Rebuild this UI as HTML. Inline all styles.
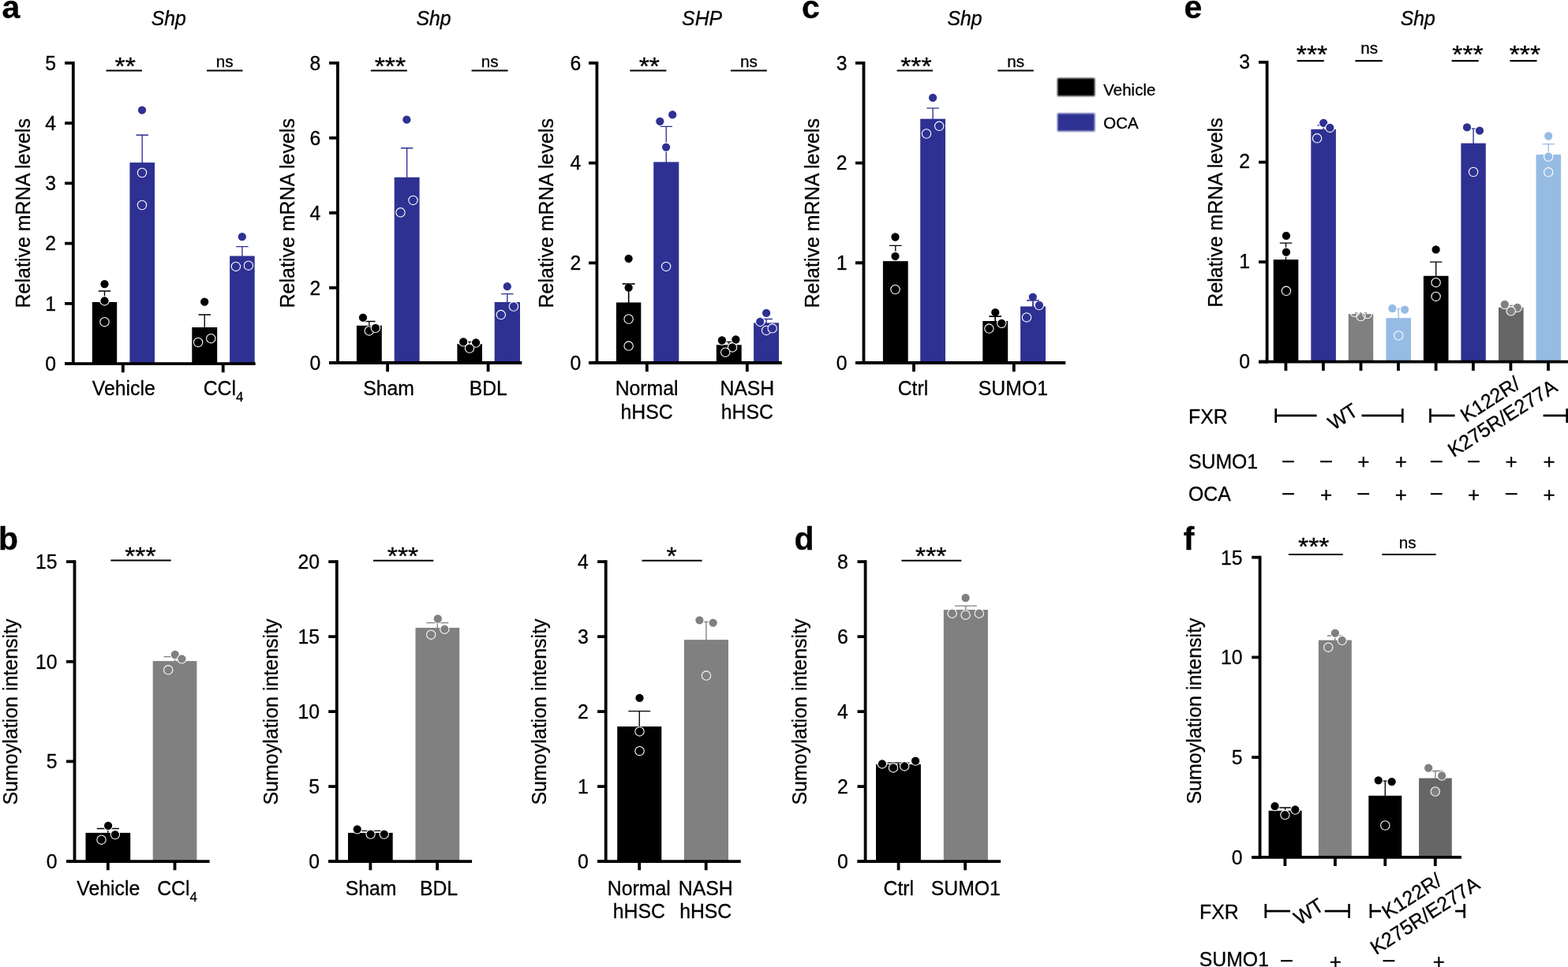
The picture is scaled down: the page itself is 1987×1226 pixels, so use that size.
<!DOCTYPE html>
<html lang="en"><head><meta charset="utf-8"><title>Figure</title>
<style>html,body{margin:0;padding:0;background:#fff}body{width:1987px;height:1226px;overflow:hidden}svg{display:block}text{stroke:#000;stroke-width:.3px;stroke-linejoin:round}</style>
</head><body>
<svg width="1987" height="1226" viewBox="0 0 1987 1226">
<defs><filter id="bl" x="-10%" y="-20%" width="120%" height="140%"><feGaussianBlur stdDeviation="1"/></filter></defs>
<rect width="1987" height="1226" fill="#fff"/>
<g font-family="'Liberation Sans', sans-serif" fill="#000">
<rect x="116.8" y="383" width="31.4" height="78.05" fill="#000"/>
<rect x="164.4" y="206.1" width="31.6" height="254.95" fill="#2e3192"/>
<rect x="243.3" y="415" width="31.9" height="46.05" fill="#000"/>
<rect x="291.1" y="324.5" width="31.6" height="136.55" fill="#2e3192"/>
<path d="M124.75 369H140.25M132.5 369V384" stroke="#000" stroke-width="1.35" fill="none"/>
<path d="M172.45 171.2H187.95M180.2 171.2V207.1" stroke="#2e3192" stroke-width="1.35" fill="none"/>
<path d="M251.5 399H267M259.25 399V416" stroke="#000" stroke-width="1.35" fill="none"/>
<path d="M299.15 312.6H314.65M306.9 312.6V325.5" stroke="#2e3192" stroke-width="1.35" fill="none"/>
<path d="M92.8 77.9V462.95" stroke="#000" stroke-width="3.8" fill="none"/>
<path d="M82.1 461.05H323.7" stroke="#000" stroke-width="3.8" fill="none"/>
<path d="M82.1 461.05H92.8M82.1 384.8H92.8M82.1 308.55H92.8M82.1 232.3H92.8M82.1 156.05H92.8M82.1 79.8H92.8M155.8 461.05V472.25M282.7 461.05V472.25" stroke="#000" stroke-width="3.8" fill="none"/>
<text transform="translate(71 469.95) scale(1 1.02)" font-size="24.8" text-anchor="end">0</text>
<text transform="translate(71 393.7) scale(1 1.02)" font-size="24.8" text-anchor="end">1</text>
<text transform="translate(71 317.45) scale(1 1.02)" font-size="24.8" text-anchor="end">2</text>
<text transform="translate(71 241.2) scale(1 1.02)" font-size="24.8" text-anchor="end">3</text>
<text transform="translate(71 164.95) scale(1 1.02)" font-size="24.8" text-anchor="end">4</text>
<text transform="translate(71 88.7) scale(1 1.02)" font-size="24.8" text-anchor="end">5</text>
<circle cx="132.5" cy="360.2" r="5.68" fill="#000" stroke="#fff" stroke-width="1.1"/>
<circle cx="132.5" cy="381.4" r="5.68" fill="#000" stroke="#fff" stroke-width="1.1"/>
<circle cx="132.5" cy="408.2" r="5.68" fill="#000" stroke="#fff" stroke-width="1.1"/>
<circle cx="180" cy="139.6" r="5.68" fill="#2e3192" stroke="#fff" stroke-width="1.1"/>
<circle cx="180" cy="219" r="5.68" fill="#2e3192" stroke="#fff" stroke-width="1.1"/>
<circle cx="180" cy="260" r="5.68" fill="#2e3192" stroke="#fff" stroke-width="1.1"/>
<circle cx="259.2" cy="382.7" r="5.68" fill="#000" stroke="#fff" stroke-width="1.1"/>
<circle cx="251.1" cy="434" r="5.68" fill="#000" stroke="#fff" stroke-width="1.1"/>
<circle cx="267.3" cy="429.2" r="5.68" fill="#000" stroke="#fff" stroke-width="1.1"/>
<circle cx="306.8" cy="300.2" r="5.68" fill="#2e3192" stroke="#fff" stroke-width="1.1"/>
<circle cx="298.9" cy="337.9" r="5.68" fill="#2e3192" stroke="#fff" stroke-width="1.1"/>
<circle cx="314.9" cy="336.7" r="5.68" fill="#2e3192" stroke="#fff" stroke-width="1.1"/>
<rect x="451.9" y="412.8" width="31.9" height="47.2" fill="#000"/>
<rect x="499.7" y="224.8" width="31.9" height="235.2" fill="#2e3192"/>
<rect x="579.4" y="436.1" width="31.6" height="23.9" fill="#000"/>
<rect x="626.7" y="383" width="32.3" height="77" fill="#2e3192"/>
<path d="M460.1 407.5H475.6M467.85 407.5V413.8" stroke="#000" stroke-width="1.35" fill="none"/>
<path d="M507.9 187.7H523.4M515.65 187.7V225.8" stroke="#2e3192" stroke-width="1.35" fill="none"/>
<path d="M587.45 433.3H602.95M595.2 433.3V437.1" stroke="#000" stroke-width="1.35" fill="none"/>
<path d="M635.1 372.6H650.6M642.85 372.6V384" stroke="#2e3192" stroke-width="1.35" fill="none"/>
<path d="M427.95 77.95V461.9" stroke="#000" stroke-width="3.8" fill="none"/>
<path d="M417.1 460H661.3" stroke="#000" stroke-width="3.8" fill="none"/>
<path d="M417.1 460H427.95M417.1 364.96H427.95M417.1 269.92H427.95M417.1 174.88H427.95M417.1 79.84H427.95M491.1 460V471.2M618.6 460V471.2" stroke="#000" stroke-width="3.8" fill="none"/>
<text transform="translate(406.4 468.9) scale(1 1.02)" font-size="24.8" text-anchor="end">0</text>
<text transform="translate(406.4 373.86) scale(1 1.02)" font-size="24.8" text-anchor="end">2</text>
<text transform="translate(406.4 278.82) scale(1 1.02)" font-size="24.8" text-anchor="end">4</text>
<text transform="translate(406.4 183.78) scale(1 1.02)" font-size="24.8" text-anchor="end">6</text>
<text transform="translate(406.4 88.74) scale(1 1.02)" font-size="24.8" text-anchor="end">8</text>
<circle cx="460" cy="402.7" r="5.68" fill="#000" stroke="#fff" stroke-width="1.1"/>
<circle cx="467.8" cy="419.4" r="5.68" fill="#000" stroke="#fff" stroke-width="1.1"/>
<circle cx="475.9" cy="415.8" r="5.68" fill="#000" stroke="#fff" stroke-width="1.1"/>
<circle cx="515.4" cy="151.7" r="5.68" fill="#2e3192" stroke="#fff" stroke-width="1.1"/>
<circle cx="523.5" cy="253.9" r="5.68" fill="#2e3192" stroke="#fff" stroke-width="1.1"/>
<circle cx="507.5" cy="269.3" r="5.68" fill="#2e3192" stroke="#fff" stroke-width="1.1"/>
<circle cx="587.2" cy="433.3" r="5.68" fill="#000" stroke="#fff" stroke-width="1.1"/>
<circle cx="603.1" cy="434.5" r="5.68" fill="#000" stroke="#fff" stroke-width="1.1"/>
<circle cx="595" cy="441.6" r="5.68" fill="#000" stroke="#fff" stroke-width="1.1"/>
<circle cx="642.8" cy="363.2" r="5.68" fill="#2e3192" stroke="#fff" stroke-width="1.1"/>
<circle cx="650.9" cy="388.5" r="5.68" fill="#2e3192" stroke="#fff" stroke-width="1.1"/>
<circle cx="634.8" cy="399.1" r="5.68" fill="#2e3192" stroke="#fff" stroke-width="1.1"/>
<rect x="780.9" y="383.5" width="31.4" height="76.5" fill="#000"/>
<rect x="828.2" y="205.4" width="32.1" height="254.6" fill="#2e3192"/>
<rect x="907.8" y="437.3" width="31.9" height="22.7" fill="#000"/>
<rect x="955.1" y="409.3" width="31.9" height="50.7" fill="#2e3192"/>
<path d="M788.85 359.9H804.35M796.6 359.9V384.5" stroke="#000" stroke-width="1.35" fill="none"/>
<path d="M836.5 160.3H852M844.25 160.3V206.4" stroke="#2e3192" stroke-width="1.35" fill="none"/>
<path d="M916 433.3H931.5M923.75 433.3V438.3" stroke="#000" stroke-width="1.35" fill="none"/>
<path d="M963.3 404.5H978.8M971.05 404.5V410.3" stroke="#2e3192" stroke-width="1.35" fill="none"/>
<path d="M756.4 77.93V461.9" stroke="#000" stroke-width="3.8" fill="none"/>
<path d="M746 460H990.8" stroke="#000" stroke-width="3.8" fill="none"/>
<path d="M746 460H756.4M746 333.28H756.4M746 206.56H756.4M746 79.84H756.4M819.8 460V471.2M946.8 460V471.2" stroke="#000" stroke-width="3.8" fill="none"/>
<text transform="translate(736.4 468.9) scale(1 1.02)" font-size="24.8" text-anchor="end">0</text>
<text transform="translate(736.4 342.18) scale(1 1.02)" font-size="24.8" text-anchor="end">2</text>
<text transform="translate(736.4 215.46) scale(1 1.02)" font-size="24.8" text-anchor="end">4</text>
<text transform="translate(736.4 88.74) scale(1 1.02)" font-size="24.8" text-anchor="end">6</text>
<circle cx="796.6" cy="327.8" r="5.68" fill="#000" stroke="#fff" stroke-width="1.1"/>
<circle cx="796.6" cy="364.7" r="5.68" fill="#000" stroke="#fff" stroke-width="1.1"/>
<circle cx="796.6" cy="404.5" r="5.68" fill="#000" stroke="#fff" stroke-width="1.1"/>
<circle cx="796.6" cy="438.6" r="5.68" fill="#000" stroke="#fff" stroke-width="1.1"/>
<path d="M788.85 359.9H804.35M796.6 359.9V384.5" stroke="#000" stroke-width="1.35" fill="none"/>
<circle cx="836.3" cy="153.8" r="5.68" fill="#2e3192" stroke="#fff" stroke-width="1.1"/>
<circle cx="852.2" cy="145.4" r="5.68" fill="#2e3192" stroke="#fff" stroke-width="1.1"/>
<circle cx="844.1" cy="186.6" r="5.68" fill="#2e3192" stroke="#fff" stroke-width="1.1"/>
<circle cx="844.1" cy="337.9" r="5.68" fill="#2e3192" stroke="#fff" stroke-width="1.1"/>
<circle cx="914.9" cy="431.5" r="5.68" fill="#000" stroke="#fff" stroke-width="1.1"/>
<circle cx="932.4" cy="430.5" r="5.68" fill="#000" stroke="#fff" stroke-width="1.1"/>
<circle cx="928.1" cy="440.4" r="5.68" fill="#000" stroke="#fff" stroke-width="1.1"/>
<circle cx="919.2" cy="446.7" r="5.68" fill="#000" stroke="#fff" stroke-width="1.1"/>
<circle cx="971.1" cy="396.9" r="5.68" fill="#2e3192" stroke="#fff" stroke-width="1.1"/>
<circle cx="963.2" cy="407.9" r="5.68" fill="#2e3192" stroke="#fff" stroke-width="1.1"/>
<circle cx="971.1" cy="418.9" r="5.68" fill="#2e3192" stroke="#fff" stroke-width="1.1"/>
<circle cx="978.7" cy="416.3" r="5.68" fill="#2e3192" stroke="#fff" stroke-width="1.1"/>
<rect x="1118.9" y="331.1" width="31.8" height="128.9" fill="#000"/>
<rect x="1166.2" y="150.7" width="31.8" height="309.3" fill="#2e3192"/>
<rect x="1245.3" y="407" width="31.9" height="53" fill="#000"/>
<rect x="1293.1" y="388.5" width="31.9" height="71.5" fill="#2e3192"/>
<path d="M1127.05 311.4H1142.55M1134.8 311.4V332.1" stroke="#000" stroke-width="1.35" fill="none"/>
<path d="M1174.35 137.1H1189.85M1182.1 137.1V151.7" stroke="#2e3192" stroke-width="1.35" fill="none"/>
<path d="M1253.5 401.2H1269M1261.25 401.2V408" stroke="#000" stroke-width="1.35" fill="none"/>
<path d="M1301.3 380.9H1316.8M1309.05 380.9V389.5" stroke="#2e3192" stroke-width="1.35" fill="none"/>
<path d="M1094.5 77.9V461.9" stroke="#000" stroke-width="3.8" fill="none"/>
<path d="M1084 460H1350.3" stroke="#000" stroke-width="3.8" fill="none"/>
<path d="M1084 460H1094.5M1084 333.27H1094.5M1084 206.54H1094.5M1084 79.81H1094.5M1158 460V471.2M1284.8 460V471.2" stroke="#000" stroke-width="3.8" fill="none"/>
<text transform="translate(1073.6 468.9) scale(1 1.02)" font-size="24.8" text-anchor="end">0</text>
<text transform="translate(1073.6 342.17) scale(1 1.02)" font-size="24.8" text-anchor="end">1</text>
<text transform="translate(1073.6 215.44) scale(1 1.02)" font-size="24.8" text-anchor="end">2</text>
<text transform="translate(1073.6 88.71) scale(1 1.02)" font-size="24.8" text-anchor="end">3</text>
<circle cx="1134.5" cy="300.5" r="5.68" fill="#000" stroke="#fff" stroke-width="1.1"/>
<circle cx="1134.5" cy="324.8" r="5.68" fill="#000" stroke="#fff" stroke-width="1.1"/>
<circle cx="1134.5" cy="367" r="5.68" fill="#000" stroke="#fff" stroke-width="1.1"/>
<circle cx="1182.1" cy="123.9" r="5.68" fill="#2e3192" stroke="#fff" stroke-width="1.1"/>
<circle cx="1190.2" cy="159.8" r="5.68" fill="#2e3192" stroke="#fff" stroke-width="1.1"/>
<circle cx="1174" cy="169.5" r="5.68" fill="#2e3192" stroke="#fff" stroke-width="1.1"/>
<circle cx="1261.3" cy="396.1" r="5.68" fill="#000" stroke="#fff" stroke-width="1.1"/>
<circle cx="1269.3" cy="409.8" r="5.68" fill="#000" stroke="#fff" stroke-width="1.1"/>
<circle cx="1253.4" cy="416.6" r="5.68" fill="#000" stroke="#fff" stroke-width="1.1"/>
<path d="M1253.5 401.2H1269M1261.25 401.2V408" stroke="#000" stroke-width="1.35" fill="none"/>
<circle cx="1308.8" cy="376.6" r="5.68" fill="#2e3192" stroke="#fff" stroke-width="1.1"/>
<circle cx="1316.9" cy="387" r="5.68" fill="#2e3192" stroke="#fff" stroke-width="1.1"/>
<circle cx="1301" cy="402.4" r="5.68" fill="#2e3192" stroke="#fff" stroke-width="1.1"/>
<path d="M1301.3 380.9H1316.8M1309.05 380.9V389.5" stroke="#2e3192" stroke-width="1.35" fill="none"/>
<rect x="1613.7" y="329.1" width="31.6" height="129.6" fill="#000"/>
<rect x="1661.3" y="163.9" width="31.6" height="294.8" fill="#2e3192"/>
<rect x="1708.8" y="398.1" width="31.4" height="60.6" fill="#808080"/>
<rect x="1756.4" y="403.2" width="31.6" height="55.5" fill="#96bce4"/>
<rect x="1803.9" y="349.8" width="31.6" height="108.9" fill="#000"/>
<rect x="1851.4" y="181.6" width="31.4" height="277.1" fill="#2e3192"/>
<rect x="1899" y="389.8" width="31.6" height="68.9" fill="#666666"/>
<rect x="1946.5" y="196" width="31.6" height="262.7" fill="#96bce4"/>
<path d="M1621.75 308.1H1637.25M1629.5 308.1V330.1" stroke="#000" stroke-width="1.35" fill="none"/>
<path d="M1669.35 158.8H1684.85M1677.1 158.8V164.9" stroke="#2e3192" stroke-width="1.35" fill="none"/>
<path d="M1716.75 396.9H1732.25M1724.5 396.9V399.1" stroke="#808080" stroke-width="1.35" fill="none"/>
<path d="M1764.45 391.6H1779.95M1772.2 391.6V404.2" stroke="#96bce4" stroke-width="1.35" fill="none"/>
<path d="M1811.95 332.1H1827.45M1819.7 332.1V350.8" stroke="#000" stroke-width="1.35" fill="none"/>
<path d="M1859.35 163.1H1874.85M1867.1 163.1V182.6" stroke="#2e3192" stroke-width="1.35" fill="none"/>
<path d="M1907.05 387.3H1922.55M1914.8 387.3V390.8" stroke="#808080" stroke-width="1.35" fill="none"/>
<path d="M1954.55 182.6H1970.05M1962.3 182.6V197" stroke="#96bce4" stroke-width="1.35" fill="none"/>
<path d="M1605.6 77.05V460.6" stroke="#000" stroke-width="3.8" fill="none"/>
<path d="M1595 458.7H1987" stroke="#000" stroke-width="3.8" fill="none"/>
<path d="M1595 458.7H1605.6M1595 332.12H1605.6M1595 205.54H1605.6M1595 78.96H1605.6M1629.4 458.7V469.9M1676.9 458.7V469.9M1724.5 458.7V469.9M1772 458.7V469.9M1819.6 458.7V469.9M1866.9 458.7V469.9M1914.4 458.7V469.9M1962 458.7V469.9" stroke="#000" stroke-width="3.8" fill="none"/>
<text transform="translate(1584.1 466.5) scale(1 1.02)" font-size="24.8" text-anchor="end">0</text>
<text transform="translate(1584.1 339.92) scale(1 1.02)" font-size="24.8" text-anchor="end">1</text>
<text transform="translate(1584.1 213.34) scale(1 1.02)" font-size="24.8" text-anchor="end">2</text>
<text transform="translate(1584.1 86.76) scale(1 1.02)" font-size="24.8" text-anchor="end">3</text>
<circle cx="1629.9" cy="298.9" r="5.68" fill="#000" stroke="#fff" stroke-width="1.1"/>
<circle cx="1629.9" cy="319.7" r="5.68" fill="#000" stroke="#fff" stroke-width="1.1"/>
<circle cx="1629.9" cy="368.8" r="5.68" fill="#000" stroke="#fff" stroke-width="1.1"/>
<circle cx="1677.2" cy="155.8" r="5.68" fill="#2e3192" stroke="#fff" stroke-width="1.1"/>
<circle cx="1685.3" cy="161.9" r="5.68" fill="#2e3192" stroke="#fff" stroke-width="1.1"/>
<circle cx="1669.1" cy="175.3" r="5.68" fill="#2e3192" stroke="#fff" stroke-width="1.1"/>
<circle cx="1716.8" cy="395.8" r="5.68" fill="none" stroke="#fff" stroke-width="1.1"/>
<circle cx="1732.7" cy="398" r="5.68" fill="none" stroke="#fff" stroke-width="1.1"/>
<circle cx="1724.5" cy="401.1" r="5.68" fill="none" stroke="#fff" stroke-width="1.1"/>
<circle cx="1764.4" cy="391" r="5.68" fill="#96bce4" stroke="#fff" stroke-width="1.1"/>
<circle cx="1780.1" cy="392.6" r="5.68" fill="#96bce4" stroke="#fff" stroke-width="1.1"/>
<circle cx="1772.3" cy="425.4" r="5.68" fill="#96bce4" stroke="#fff" stroke-width="1.1"/>
<circle cx="1819.6" cy="316.4" r="5.68" fill="#000" stroke="#fff" stroke-width="1.1"/>
<circle cx="1819.6" cy="358.2" r="5.68" fill="#000" stroke="#fff" stroke-width="1.1"/>
<circle cx="1819.6" cy="375.9" r="5.68" fill="#000" stroke="#fff" stroke-width="1.1"/>
<circle cx="1859" cy="161.4" r="5.68" fill="#2e3192" stroke="#fff" stroke-width="1.1"/>
<circle cx="1875" cy="165.7" r="5.68" fill="#2e3192" stroke="#fff" stroke-width="1.1"/>
<circle cx="1867.1" cy="218" r="5.68" fill="#2e3192" stroke="#fff" stroke-width="1.1"/>
<circle cx="1906.8" cy="386" r="5.68" fill="#808080" stroke="#fff" stroke-width="1.1"/>
<circle cx="1922.8" cy="389.8" r="5.68" fill="#808080" stroke="#fff" stroke-width="1.1"/>
<circle cx="1914.7" cy="394.3" r="5.68" fill="#808080" stroke="#fff" stroke-width="1.1"/>
<circle cx="1962.2" cy="172.5" r="5.68" fill="#96bce4" stroke="#fff" stroke-width="1.1"/>
<circle cx="1962.2" cy="198.5" r="5.68" fill="#96bce4" stroke="#fff" stroke-width="1.1"/>
<circle cx="1962.2" cy="218.3" r="5.68" fill="#96bce4" stroke="#fff" stroke-width="1.1"/>
<rect x="108.5" y="1055.9" width="56.7" height="36.25" fill="#000"/>
<rect x="193.7" y="838.1" width="55.7" height="254.05" fill="#808080"/>
<path d="M122.85 1050.5H150.85M136.85 1050.5V1056.9" stroke="#000" stroke-width="1.35" fill="none"/>
<path d="M207.55 832.6H235.55M221.55 832.6V839.1" stroke="#808080" stroke-width="1.35" fill="none"/>
<path d="M94.5 710.2V1094.05" stroke="#000" stroke-width="3.8" fill="none"/>
<path d="M84 1092.15H265.6" stroke="#000" stroke-width="3.8" fill="none"/>
<path d="M84 1092.15H94.5M84 965.47H94.5M84 838.79H94.5M84 712.11H94.5M136.8 1092.15V1103.35M221.5 1092.15V1103.35" stroke="#000" stroke-width="3.8" fill="none"/>
<text transform="translate(72.6 1101.05) scale(1 1.02)" font-size="24.8" text-anchor="end">0</text>
<text transform="translate(72.6 974.37) scale(1 1.02)" font-size="24.8" text-anchor="end">5</text>
<text transform="translate(72.6 847.69) scale(1 1.02)" font-size="24.8" text-anchor="end">10</text>
<text transform="translate(72.6 721.01) scale(1 1.02)" font-size="24.8" text-anchor="end">15</text>
<circle cx="137.1" cy="1046.8" r="5.68" fill="#000" stroke="#fff" stroke-width="1.1"/>
<circle cx="145.9" cy="1058.1" r="5.68" fill="#000" stroke="#fff" stroke-width="1.1"/>
<circle cx="128.5" cy="1064.7" r="5.68" fill="#000" stroke="#fff" stroke-width="1.1"/>
<circle cx="221.8" cy="830" r="5.68" fill="#808080" stroke="#fff" stroke-width="1.1"/>
<circle cx="230.4" cy="835.3" r="5.68" fill="#808080" stroke="#fff" stroke-width="1.1"/>
<circle cx="213.2" cy="849.3" r="5.68" fill="#808080" stroke="#fff" stroke-width="1.1"/>
<rect x="441" y="1055.9" width="56.7" height="36.25" fill="#000"/>
<rect x="526.5" y="795.9" width="55.7" height="296.25" fill="#808080"/>
<path d="M455.35 1053.3H483.35M469.35 1053.3V1056.9" stroke="#000" stroke-width="1.35" fill="none"/>
<path d="M540.35 789.6H568.35M554.35 789.6V796.9" stroke="#808080" stroke-width="1.35" fill="none"/>
<path d="M426.8 710.2V1094.05" stroke="#000" stroke-width="3.8" fill="none"/>
<path d="M416.2 1092.15H598.1" stroke="#000" stroke-width="3.8" fill="none"/>
<path d="M416.2 1092.15H426.8M416.2 997.14H426.8M416.2 902.13H426.8M416.2 807.12H426.8M416.2 712.11H426.8M469.4 1092.15V1103.35M554.1 1092.15V1103.35" stroke="#000" stroke-width="3.8" fill="none"/>
<text transform="translate(405.1 1101.05) scale(1 1.02)" font-size="24.8" text-anchor="end">0</text>
<text transform="translate(405.1 1006.04) scale(1 1.02)" font-size="24.8" text-anchor="end">5</text>
<text transform="translate(405.1 911.03) scale(1 1.02)" font-size="24.8" text-anchor="end">10</text>
<text transform="translate(405.1 816.02) scale(1 1.02)" font-size="24.8" text-anchor="end">15</text>
<text transform="translate(405.1 721.01) scale(1 1.02)" font-size="24.8" text-anchor="end">20</text>
<circle cx="452.7" cy="1051.3" r="5.68" fill="#000" stroke="#fff" stroke-width="1.1"/>
<circle cx="469.6" cy="1057.6" r="5.68" fill="#000" stroke="#fff" stroke-width="1.1"/>
<circle cx="486.8" cy="1057.6" r="5.68" fill="#000" stroke="#fff" stroke-width="1.1"/>
<circle cx="554.8" cy="784.5" r="5.68" fill="#808080" stroke="#fff" stroke-width="1.1"/>
<circle cx="563.4" cy="797.7" r="5.68" fill="#808080" stroke="#fff" stroke-width="1.1"/>
<circle cx="546.2" cy="804.7" r="5.68" fill="#808080" stroke="#fff" stroke-width="1.1"/>
<rect x="782.2" y="921.1" width="56.1" height="171.05" fill="#000"/>
<rect x="866.9" y="811.1" width="56.1" height="281.05" fill="#808080"/>
<path d="M796.25 901.6H824.25M810.25 901.6V922.1" stroke="#000" stroke-width="1.35" fill="none"/>
<path d="M890.95 788.3H898.95M894.95 788.3V812.1" stroke="#808080" stroke-width="1.35" fill="none"/>
<path d="M767.7 710.2V1094.05" stroke="#000" stroke-width="3.8" fill="none"/>
<path d="M757.1 1092.15H938.7" stroke="#000" stroke-width="3.8" fill="none"/>
<path d="M757.1 1092.15H767.7M757.1 997.14H767.7M757.1 902.13H767.7M757.1 807.12H767.7M757.1 712.11H767.7M810.2 1092.15V1103.35M894.7 1092.15V1103.35" stroke="#000" stroke-width="3.8" fill="none"/>
<text transform="translate(745.7 1101.05) scale(1 1.02)" font-size="24.8" text-anchor="end">0</text>
<text transform="translate(745.7 1006.04) scale(1 1.02)" font-size="24.8" text-anchor="end">1</text>
<text transform="translate(745.7 911.03) scale(1 1.02)" font-size="24.8" text-anchor="end">2</text>
<text transform="translate(745.7 816.02) scale(1 1.02)" font-size="24.8" text-anchor="end">3</text>
<text transform="translate(745.7 721.01) scale(1 1.02)" font-size="24.8" text-anchor="end">4</text>
<circle cx="810.5" cy="884.9" r="5.68" fill="#000" stroke="#fff" stroke-width="1.1"/>
<circle cx="810.5" cy="927.4" r="5.68" fill="#000" stroke="#fff" stroke-width="1.1"/>
<circle cx="810.5" cy="952.2" r="5.68" fill="#000" stroke="#fff" stroke-width="1.1"/>
<circle cx="886.4" cy="786.3" r="5.68" fill="#808080" stroke="#fff" stroke-width="1.1"/>
<circle cx="903.6" cy="789.6" r="5.68" fill="#808080" stroke="#fff" stroke-width="1.1"/>
<circle cx="895" cy="856.6" r="5.68" fill="#808080" stroke="#fff" stroke-width="1.1"/>
<rect x="1110" y="969.1" width="56.9" height="123.05" fill="#000"/>
<rect x="1195.8" y="773.1" width="56.1" height="319.05" fill="#808080"/>
<path d="M1124.45 967.1H1152.45M1138.45 967.1V970.1" stroke="#000" stroke-width="1.35" fill="none"/>
<path d="M1209.85 768.1H1237.85M1223.85 768.1V774.1" stroke="#808080" stroke-width="1.35" fill="none"/>
<path d="M1096.6 710.2V1094.05" stroke="#000" stroke-width="3.8" fill="none"/>
<path d="M1086.5 1092.15H1268.1" stroke="#000" stroke-width="3.8" fill="none"/>
<path d="M1086.5 1092.15H1096.6M1086.5 997.14H1096.6M1086.5 902.13H1096.6M1086.5 807.12H1096.6M1086.5 712.11H1096.6M1138.6 1092.15V1103.35M1223.1 1092.15V1103.35" stroke="#000" stroke-width="3.8" fill="none"/>
<text transform="translate(1074.8 1101.05) scale(1 1.02)" font-size="24.8" text-anchor="end">0</text>
<text transform="translate(1074.8 1006.04) scale(1 1.02)" font-size="24.8" text-anchor="end">2</text>
<text transform="translate(1074.8 911.03) scale(1 1.02)" font-size="24.8" text-anchor="end">4</text>
<text transform="translate(1074.8 816.02) scale(1 1.02)" font-size="24.8" text-anchor="end">6</text>
<text transform="translate(1074.8 721.01) scale(1 1.02)" font-size="24.8" text-anchor="end">8</text>
<circle cx="1117.9" cy="968.4" r="5.68" fill="#000" stroke="#fff" stroke-width="1.1"/>
<circle cx="1132" cy="973.4" r="5.68" fill="#000" stroke="#fff" stroke-width="1.1"/>
<circle cx="1146.2" cy="971.4" r="5.68" fill="#000" stroke="#fff" stroke-width="1.1"/>
<circle cx="1160.1" cy="964.6" r="5.68" fill="#000" stroke="#fff" stroke-width="1.1"/>
<circle cx="1223.6" cy="758" r="5.68" fill="#808080" stroke="#fff" stroke-width="1.1"/>
<circle cx="1206.6" cy="777.7" r="5.68" fill="#808080" stroke="#fff" stroke-width="1.1"/>
<circle cx="1223.6" cy="779.7" r="5.68" fill="#808080" stroke="#fff" stroke-width="1.1"/>
<circle cx="1240.8" cy="777.7" r="5.68" fill="#808080" stroke="#fff" stroke-width="1.1"/>
<rect x="1607.6" y="1027.8" width="42" height="59.1" fill="#000"/>
<rect x="1670.9" y="811.6" width="41.9" height="275.3" fill="#808080"/>
<rect x="1734.3" y="1008.8" width="42" height="78.1" fill="#000"/>
<rect x="1798.1" y="986.6" width="41.7" height="100.3" fill="#666666"/>
<path d="M1618.6 1024H1638.6M1628.6 1024V1028.8" stroke="#000" stroke-width="1.35" fill="none"/>
<path d="M1681.85 806H1701.85M1691.85 806V812.6" stroke="#808080" stroke-width="1.35" fill="none"/>
<path d="M1751.3 990.1H1759.3M1755.3 990.1V1009.8" stroke="#000" stroke-width="1.35" fill="none"/>
<path d="M1808.95 977.5H1828.95M1818.95 977.5V987.6" stroke="#808080" stroke-width="1.35" fill="none"/>
<path d="M1596.6 704.8V1088.8" stroke="#000" stroke-width="3.8" fill="none"/>
<path d="M1586.2 1086.9H1852" stroke="#000" stroke-width="3.8" fill="none"/>
<path d="M1586.2 1086.9H1596.6M1586.2 960.17H1596.6M1586.2 833.44H1596.6M1586.2 706.71H1596.6M1628.4 1086.9V1098.1M1691.9 1086.9V1098.1M1755.3 1086.9V1098.1M1818.8 1086.9V1098.1" stroke="#000" stroke-width="3.8" fill="none"/>
<text transform="translate(1574.5 1095.8) scale(1 1.02)" font-size="24.8" text-anchor="end">0</text>
<text transform="translate(1574.5 969.07) scale(1 1.02)" font-size="24.8" text-anchor="end">5</text>
<text transform="translate(1574.5 842.34) scale(1 1.02)" font-size="24.8" text-anchor="end">10</text>
<text transform="translate(1574.5 715.61) scale(1 1.02)" font-size="24.8" text-anchor="end">15</text>
<circle cx="1615.5" cy="1022.2" r="5.68" fill="#000" stroke="#fff" stroke-width="1.1"/>
<circle cx="1641.3" cy="1026.5" r="5.68" fill="#000" stroke="#fff" stroke-width="1.1"/>
<circle cx="1628.4" cy="1033.1" r="5.68" fill="#000" stroke="#fff" stroke-width="1.1"/>
<circle cx="1691.9" cy="802.7" r="5.68" fill="#808080" stroke="#fff" stroke-width="1.1"/>
<circle cx="1700.7" cy="811.8" r="5.68" fill="#808080" stroke="#fff" stroke-width="1.1"/>
<circle cx="1683.3" cy="820.7" r="5.68" fill="#808080" stroke="#fff" stroke-width="1.1"/>
<circle cx="1746.7" cy="989.3" r="5.68" fill="#000" stroke="#fff" stroke-width="1.1"/>
<circle cx="1763.7" cy="991.1" r="5.68" fill="#000" stroke="#fff" stroke-width="1.1"/>
<circle cx="1755.3" cy="1046.5" r="5.68" fill="#000" stroke="#fff" stroke-width="1.1"/>
<circle cx="1810.2" cy="973.7" r="5.68" fill="#808080" stroke="#fff" stroke-width="1.1"/>
<circle cx="1827.2" cy="983.5" r="5.68" fill="#808080" stroke="#fff" stroke-width="1.1"/>
<circle cx="1818.8" cy="1003.5" r="5.68" fill="#808080" stroke="#fff" stroke-width="1.1"/>
<text transform="translate(213.7 32.4) scale(1 1.02)" font-size="24.8" text-anchor="middle" font-style="italic">Shp</text>
<text transform="translate(549.5 32.4) scale(1 1.02)" font-size="24.8" text-anchor="middle" font-style="italic">Shp</text>
<text transform="translate(889.6 31.6) scale(1 1.02)" font-size="24.8" text-anchor="middle" font-style="italic">SHP</text>
<text transform="translate(1222.6 32.4) scale(1 1.02)" font-size="24.8" text-anchor="middle" font-style="italic">Shp</text>
<text transform="translate(1796.8 32.4) scale(1 1.02)" font-size="24.8" text-anchor="middle" font-style="italic">Shp</text>
<text transform="translate(37.5 270.3) rotate(-90) scale(1 1.02)" font-size="25" text-anchor="middle">Relative mRNA levels</text>
<text transform="translate(373 270.3) rotate(-90) scale(1 1.02)" font-size="25" text-anchor="middle">Relative mRNA levels</text>
<text transform="translate(701.2 270.3) rotate(-90) scale(1 1.02)" font-size="25" text-anchor="middle">Relative mRNA levels</text>
<text transform="translate(1037.9 270.3) rotate(-90) scale(1 1.02)" font-size="25" text-anchor="middle">Relative mRNA levels</text>
<text transform="translate(1548.5 269.5) rotate(-90) scale(1 1.02)" font-size="25" text-anchor="middle">Relative mRNA levels</text>
<text transform="translate(21.5 902.5) rotate(-90) scale(1 1.02)" font-size="25" text-anchor="middle">Sumoylation intensity</text>
<text transform="translate(352.4 902.5) rotate(-90) scale(1 1.02)" font-size="25" text-anchor="middle">Sumoylation intensity</text>
<text transform="translate(692 902.5) rotate(-90) scale(1 1.02)" font-size="25" text-anchor="middle">Sumoylation intensity</text>
<text transform="translate(1021.8 902.5) rotate(-90) scale(1 1.02)" font-size="25" text-anchor="middle">Sumoylation intensity</text>
<text transform="translate(1522.4 901.5) rotate(-90) scale(1 1.02)" font-size="25" text-anchor="middle">Sumoylation intensity</text>
<path d="M134.5 89.5H180" stroke="#000" stroke-width="2.0" fill="none"/>
<text transform="translate(158.75 94.8) scale(1.09 1.03)" font-size="31" text-anchor="middle">**</text>
<path d="M262 89.5H307.5" stroke="#000" stroke-width="2.0" fill="none"/>
<text transform="translate(284.75 84.7) scale(1 1.0)" font-size="20.7" text-anchor="middle">ns</text>
<path d="M469.9 89.5H515.9" stroke="#000" stroke-width="2.0" fill="none"/>
<text transform="translate(494.4 94.8) scale(1.09 1.03)" font-size="31" text-anchor="middle">***</text>
<path d="M597.6 89.5H643.6" stroke="#000" stroke-width="2.0" fill="none"/>
<text transform="translate(620.6 84.7) scale(1 1.0)" font-size="20.7" text-anchor="middle">ns</text>
<path d="M798.3 89.5H844.4" stroke="#000" stroke-width="2.0" fill="none"/>
<text transform="translate(822.85 94.8) scale(1.09 1.03)" font-size="31" text-anchor="middle">**</text>
<path d="M926 89.5H971.8" stroke="#000" stroke-width="2.0" fill="none"/>
<text transform="translate(948.9 84.7) scale(1 1.0)" font-size="20.7" text-anchor="middle">ns</text>
<path d="M1136.6 89.5H1182.1" stroke="#000" stroke-width="2.0" fill="none"/>
<text transform="translate(1160.85 94.8) scale(1.09 1.03)" font-size="31" text-anchor="middle">***</text>
<path d="M1264.3 89.5H1309.8" stroke="#000" stroke-width="2.0" fill="none"/>
<text transform="translate(1287.05 84.7) scale(1 1.0)" font-size="20.7" text-anchor="middle">ns</text>
<path d="M1643.6 77.1H1677.7" stroke="#000" stroke-width="2.2" fill="none"/>
<text transform="translate(1662.55 79.9) scale(1.09 1.03)" font-size="31" text-anchor="middle">***</text>
<path d="M1717.4 77.1H1751.8" stroke="#000" stroke-width="2.2" fill="none"/>
<text transform="translate(1735.1 68) scale(1 1.0)" font-size="20.7" text-anchor="middle">ns</text>
<path d="M1839.6 77.1H1873.7" stroke="#000" stroke-width="2.2" fill="none"/>
<text transform="translate(1860.05 79.9) scale(1.09 1.03)" font-size="31" text-anchor="middle">***</text>
<path d="M1913.4 77.1H1947.5" stroke="#000" stroke-width="2.2" fill="none"/>
<text transform="translate(1932.35 79.9) scale(1.09 1.03)" font-size="31" text-anchor="middle">***</text>
<path d="M140.4 710.4H216.7" stroke="#000" stroke-width="2.0" fill="none"/>
<text transform="translate(177.95 715.7) scale(1.09 1.03)" font-size="31" text-anchor="middle">***</text>
<path d="M472.9 710.7H549.3" stroke="#000" stroke-width="2.0" fill="none"/>
<text transform="translate(510.5 716) scale(1.09 1.03)" font-size="31" text-anchor="middle">***</text>
<path d="M813.5 710.7H889.6" stroke="#000" stroke-width="2.0" fill="none"/>
<text transform="translate(850.95 716) scale(1.09 1.03)" font-size="31" text-anchor="middle">*</text>
<path d="M1142.4 710.7H1218.3" stroke="#000" stroke-width="2.0" fill="none"/>
<text transform="translate(1179.75 716) scale(1.09 1.03)" font-size="31" text-anchor="middle">***</text>
<path d="M1632.9 703.1H1701.7" stroke="#000" stroke-width="2.0" fill="none"/>
<text transform="translate(1664.8 704.4) scale(1.09 1.03)" font-size="31" text-anchor="middle">***</text>
<path d="M1751.3 703.1H1819.6" stroke="#000" stroke-width="2.0" fill="none"/>
<text transform="translate(1783.65 695.3) scale(1 1.0)" font-size="20.7" text-anchor="middle">ns</text>
<text transform="translate(156.8 501) scale(1 1.02)" font-size="24.8" text-anchor="middle">Vehicle</text>
<text transform="translate(283 501) scale(1 1.02)" font-size="24.8" text-anchor="middle">CCl<tspan font-size="17" dy="7.8">4</tspan></text>
<text transform="translate(492.5 501) scale(1 1.02)" font-size="24.8" text-anchor="middle">Sham</text>
<text transform="translate(618.8 501) scale(1 1.02)" font-size="24.8" text-anchor="middle">BDL</text>
<text transform="translate(819.6 501) scale(1 1.02)" font-size="24.8" text-anchor="middle">Normal</text>
<text transform="translate(819.6 530.6) scale(1 1.02)" font-size="24.8" text-anchor="middle">hHSC</text>
<text transform="translate(946.8 501) scale(1 1.02)" font-size="24.8" text-anchor="middle">NASH</text>
<text transform="translate(946.8 530.6) scale(1 1.02)" font-size="24.8" text-anchor="middle">hHSC</text>
<text transform="translate(1157 501) scale(1 1.02)" font-size="24.8" text-anchor="middle">Ctrl</text>
<text transform="translate(1283.9 501) scale(1 1.02)" font-size="24.8" text-anchor="middle">SUMO1</text>
<text transform="translate(137.3 1134.8) scale(1 1.02)" font-size="24.8" text-anchor="middle">Vehicle</text>
<text transform="translate(224.5 1134.8) scale(1 1.02)" font-size="24.8" text-anchor="middle">CCl<tspan font-size="17" dy="7.8">4</tspan></text>
<text transform="translate(470.1 1134.8) scale(1 1.02)" font-size="24.8" text-anchor="middle">Sham</text>
<text transform="translate(556 1134.8) scale(1 1.02)" font-size="24.8" text-anchor="middle">BDL</text>
<text transform="translate(809.8 1134.8) scale(1 1.02)" font-size="24.8" text-anchor="middle">Normal</text>
<text transform="translate(809.8 1164.4) scale(1 1.02)" font-size="24.8" text-anchor="middle">hHSC</text>
<text transform="translate(894.2 1134.8) scale(1 1.02)" font-size="24.8" text-anchor="middle">NASH</text>
<text transform="translate(894.2 1164.4) scale(1 1.02)" font-size="24.8" text-anchor="middle">hHSC</text>
<text transform="translate(1138.8 1134.8) scale(1 1.02)" font-size="24.8" text-anchor="middle">Ctrl</text>
<text transform="translate(1223.8 1134.8) scale(1 1.02)" font-size="24.8" text-anchor="middle">SUMO1</text>
<g filter="url(#bl)"><rect x="1340" y="99.1" width="47.3" height="22.7" fill="#000"/><rect x="1340" y="143.7" width="47.3" height="22.7" fill="#2e3192"/></g>
<text transform="translate(1398.3 120.9) scale(1 1.02)" font-size="20.5" text-anchor="start">Vehicle</text>
<text transform="translate(1398.3 162.6) scale(1 1.02)" font-size="20.5" text-anchor="start">OCA</text>
<text transform="translate(2.4 23)" font-size="41" font-weight="bold">a</text>
<text transform="translate(-2 696.9)" font-size="41" font-weight="bold">b</text>
<text transform="translate(1016 22.5)" font-size="41" font-weight="bold">c</text>
<text transform="translate(1006.4 696.9)" font-size="41" font-weight="bold">d</text>
<text transform="translate(1500.5 22.8)" font-size="41" font-weight="bold">e</text>
<text transform="translate(1499.7 696.9)" font-size="41" font-weight="bold">f</text>
<text transform="translate(1506 537.4) scale(1 1.02)" font-size="24.8" text-anchor="start">FXR</text>
<text transform="translate(1506 594.2) scale(1 1.02)" font-size="24.8" text-anchor="start">SUMO1</text>
<text transform="translate(1506 634.6) scale(1 1.02)" font-size="24.8" text-anchor="start">OCA</text>
<text x="1632.4" y="591.5" font-size="26" text-anchor="middle">–</text>
<text x="1680.5" y="591.5" font-size="26" text-anchor="middle">–</text>
<text x="1727.8" y="594.45" font-size="26" text-anchor="middle">+</text>
<text x="1775.3" y="594.45" font-size="26" text-anchor="middle">+</text>
<text x="1820.3" y="591.5" font-size="26" text-anchor="middle">–</text>
<text x="1867.6" y="591.5" font-size="26" text-anchor="middle">–</text>
<text x="1915.2" y="594.45" font-size="26" text-anchor="middle">+</text>
<text x="1963" y="594.45" font-size="26" text-anchor="middle">+</text>
<text x="1632.4" y="633.3" font-size="26" text-anchor="middle">–</text>
<text x="1680.5" y="636.25" font-size="26" text-anchor="middle">+</text>
<text x="1727.8" y="633.3" font-size="26" text-anchor="middle">–</text>
<text x="1775.3" y="636.25" font-size="26" text-anchor="middle">+</text>
<text x="1820.3" y="633.3" font-size="26" text-anchor="middle">–</text>
<text x="1867.6" y="636.25" font-size="26" text-anchor="middle">+</text>
<text x="1915.2" y="633.3" font-size="26" text-anchor="middle">–</text>
<text x="1963" y="636.25" font-size="26" text-anchor="middle">+</text>
<path d="M1616.7 517.9V535.9M1616.7 526.9H1668.6" stroke="#000" stroke-width="2.7" fill="none"/>
<path d="M1777.3 517.9V535.9M1725.5 526.9H1777.3" stroke="#000" stroke-width="2.7" fill="none"/>
<text transform="translate(1706.3 535.5) rotate(-32.7) scale(1 1.02)" font-size="25" text-anchor="middle">WT</text>
<path d="M1812.5 517.9V535.9M1812.5 526.9H1843.6" stroke="#000" stroke-width="2.7" fill="none"/>
<path d="M1985.7 517.9V535.9M1955.6 526.9H1985.7" stroke="#000" stroke-width="2.7" fill="none"/>
<text transform="translate(1893 513.4) rotate(-32.7) scale(1 1.02)" font-size="25" text-anchor="middle">K122R/</text>
<text transform="translate(1908.6 537.5) rotate(-32.7) scale(1 1.02)" font-size="25" text-anchor="middle">K275R/E277A</text>
<text transform="translate(1520 1165.3) scale(1 1.02)" font-size="24.8" text-anchor="start">FXR</text>
<text transform="translate(1519.8 1225.1) scale(1 1.02)" font-size="24.8" text-anchor="start">SUMO1</text>
<text x="1630.4" y="1225.1" font-size="26" text-anchor="middle">–</text>
<text x="1692.4" y="1228.05" font-size="26" text-anchor="middle">+</text>
<text x="1760.1" y="1225.1" font-size="26" text-anchor="middle">–</text>
<text x="1823.4" y="1228.05" font-size="26" text-anchor="middle">+</text>
<path d="M1603.8 1146.1V1164.1M1603.8 1155.1H1635" stroke="#000" stroke-width="2.7" fill="none"/>
<path d="M1709.6 1146.1V1164.1M1678.7 1155.1H1709.6" stroke="#000" stroke-width="2.7" fill="none"/>
<text transform="translate(1663 1163) rotate(-32.7) scale(1 1.02)" font-size="25" text-anchor="middle">WT</text>
<path d="M1736.9 1146.1V1164.1M1736.9 1155.1H1750" stroke="#000" stroke-width="2.7" fill="none"/>
<path d="M1855.7 1146.1V1164.1M1844.1 1155.1H1855.7" stroke="#000" stroke-width="2.7" fill="none"/>
<text transform="translate(1793.6 1143.3) rotate(-32.7) scale(1 1.02)" font-size="25" text-anchor="middle">K122R/</text>
<text transform="translate(1810.4 1168.1) rotate(-32.7) scale(1 1.02)" font-size="25" text-anchor="middle">K275R/E277A</text>
</g>
</svg>
</body></html>
